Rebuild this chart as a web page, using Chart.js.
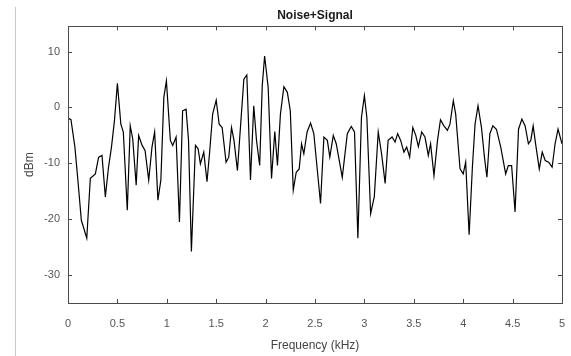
<!DOCTYPE html>
<html>
<head>
<meta charset="utf-8">
<script src="https://cdn.jsdelivr.net/npm/chart.js@4"></script>
<style>
html, body { margin: 0; padding: 0; background: #fff; }
#wrap { position: relative; width: 571px; height: 356px; }
#edge { position: absolute; left: 15px; top: 7px; width: 1px; height: 349px; background: #c8c8c8; }
</style>
</head>
<body>
<div id="wrap">
  <canvas id="noiseChart" width="571" height="356"></canvas>
  <div id="edge"></div>
</div>
<script>
// values
const freqKHz = [
  0, 0.03, 0.07, 0.10, 0.135, 0.19, 0.226, 0.277, 0.31, 0.344,
  0.378, 0.41, 0.44, 0.47, 0.50, 0.535, 0.56, 0.60, 0.63, 0.655,
  0.69, 0.715, 0.75, 0.78, 0.817, 0.85, 0.877, 0.91, 0.94, 0.97,
  0.996, 1.036, 1.06, 1.094, 1.128, 1.16, 1.195, 1.22, 1.249, 1.29,
  1.317, 1.34, 1.374, 1.407, 1.435, 1.464, 1.5, 1.53, 1.56, 1.6,
  1.627, 1.655, 1.68, 1.715, 1.75, 1.78, 1.81, 1.847, 1.88, 1.908,
  1.94, 1.966, 1.99, 2.026, 2.06, 2.093, 2.12, 2.15, 2.185, 2.22,
  2.25, 2.28, 2.31, 2.34, 2.364, 2.387, 2.42, 2.455, 2.488, 2.556,
  2.59, 2.625, 2.65, 2.685, 2.715, 2.776, 2.827, 2.867, 2.9, 2.934,
  2.97, 3.0, 3.025, 3.063, 3.1, 3.14, 3.174, 3.21, 3.24, 3.28,
  3.31, 3.337, 3.367, 3.4, 3.428, 3.458, 3.49, 3.52, 3.546, 3.58,
  3.613, 3.647, 3.67, 3.704, 3.74, 3.77, 3.805, 3.84, 3.866, 3.9,
  3.924, 3.968, 4.0, 4.025, 4.06, 4.093, 4.12, 4.15, 4.185, 4.215,
  4.24, 4.27, 4.3, 4.336, 4.38, 4.43, 4.457, 4.49, 4.525, 4.56,
  4.594, 4.627, 4.66, 4.684, 4.708, 4.735, 4.77, 4.8, 4.83, 4.865,
  4.9, 4.93, 4.96, 5.0
];
const dBm = [
  -1.9, -2.2, -7.1, -13.0, -20.2, -23.4, -12.7, -11.9, -8.9, -8.6,
  -16.0, -10.7, -7.1, -2.4, 4.3, -3.0, -4.4, -18.4, -3.3, -5.6,
  -13.9, -5.0, -6.8, -7.7, -13.0, -7.1, -4.4, -16.6, -13.0, 1.8,
  4.75, -5.9, -6.8, -5.3, -20.5, -0.6, -0.3, -5.9, -25.8, -6.8,
  -7.4, -10.1, -8.0, -13.3, -7.7, -1.2, 1.3, -3.0, -3.6, -9.8,
  -8.9, -3.6, -5.9, -11.3, -2.4, 5.05, 5.8, -13.0, 0.3, -5.9,
  -10.4, 3.9, 9.2, 3.6, -12.7, -4.3, -10.4, -1.2, 3.7, 2.7,
  -0.6, -14.8, -11.6, -11.0, -6.5, -8.3, -4.4, -2.8, -4.7, -17.2,
  -5.3, -5.9, -8.9, -5.0, -6.5, -12.5, -4.7, -3.4, -4.4, -23.4,
  -1.8, 2.1, -1.8, -19.0, -16.0, -4.4, -8.3, -13.6, -5.9, -5.3,
  -6.2, -4.7, -5.9, -8.0, -7.1, -8.9, -3.6, -5.0, -7.0, -4.4,
  -5.3, -8.6, -6.5, -12.2, -5.9, -2.2, -3.3, -4.1, -3.0, 1.2,
  -1.2, -11.0, -11.9, -9.8, -22.8, -10.7, -3.0, 0.3, -3.6, -8.9,
  -12.5, -4.7, -3.3, -3.9, -7.1, -11.9, -10.4, -10.4, -18.7, -3.9,
  -2.1, -3.3, -6.5, -5.9, -3.3, -6.8, -11.0, -8.0, -9.5, -9.8,
  -10.7, -6.5, -3.9, -6.5
];
const xTicks = [0, 0.5, 1, 1.5, 2, 2.5, 3, 3.5, 4, 4.5, 5];
const yTicks = [-30, -20, -10, 0, 10];

const points = freqKHz.map((f, i) => ({ x: f, y: dBm[i] }));

// matlab style frame with inward tick marks on all four sides
const boxTicks = {
  id: 'boxTicks',
  afterDatasetsDraw(chart) {
    const { ctx, chartArea: a, scales: { x, y } } = chart;
    const len = 4;
    ctx.save();
    ctx.strokeStyle = '#4a4a4a';
    ctx.lineWidth = 1;
    ctx.beginPath();
    x.ticks.forEach(t => {
      const px = Math.round(x.getPixelForValue(t.value)) + 0.5;
      ctx.moveTo(px, a.bottom); ctx.lineTo(px, a.bottom - len);
      ctx.moveTo(px, a.top); ctx.lineTo(px, a.top + len);
    });
    y.ticks.forEach(t => {
      const py = Math.round(y.getPixelForValue(t.value)) + 0.5;
      ctx.moveTo(a.left, py); ctx.lineTo(a.left + len, py);
      ctx.moveTo(a.right, py); ctx.lineTo(a.right - len, py);
    });
    ctx.stroke();
    ctx.strokeRect(Math.round(a.left) + 0.5, Math.round(a.top) + 0.5,
      Math.round(a.right) - Math.round(a.left), Math.round(a.bottom) - Math.round(a.top));
    ctx.restore();
  }
};

const tickFont = { family: 'Liberation Sans', size: 11 };

new Chart(document.getElementById('noiseChart').getContext('2d'), {
  type: 'line',
  data: {
    datasets: [{
      data: points,
      borderColor: '#000',
      borderWidth: 1.2,
      pointRadius: 0,
      tension: 0,
      fill: false
    }]
  },
  options: {
    responsive: false,
    animation: false,
    devicePixelRatio: 1,
    layout: { padding: { left: 0, right: 9, top: 0, bottom: 0 } },
    plugins: {
      legend: { display: false },
      tooltip: { enabled: false },
      title: {
        display: true,
        text: 'Noise+Signal',
        fullSize: false,
        color: '#1a1a1a',
        font: { family: 'Liberation Sans', size: 12, weight: 'bold' },
        padding: { top: 8, bottom: 4 }
      }
    },
    scales: {
      x: {
        type: 'linear',
        min: 0,
        max: 5,
        afterBuildTicks: s => { s.ticks = xTicks.map(v => ({ value: v })); },
        afterFit: s => { s.height = 53; },
        // hidden tick length only pushes the labels down
        grid: { display: false, drawTicks: true, tickLength: 14 },
        border: { display: false },
        ticks: { color: '#555', font: tickFont, padding: 0, maxRotation: 0, callback: v => String(v) },
        title: {
          display: true,
          text: 'Frequency (kHz)',
          color: '#444',
          font: { family: 'Liberation Sans', size: 12 },
          padding: { top: 0, bottom: 3 }
        }
      },
      y: {
        min: -35,
        max: 14.5,
        afterBuildTicks: s => { s.ticks = yTicks.map(v => ({ value: v })); },
        afterFit: s => { s.width = 68; },
        grid: { display: false, drawTicks: false },
        border: { display: false },
        ticks: { color: '#555', font: tickFont, padding: 8, callback: v => String(v) },
        title: {
          display: true,
          text: 'dBm',
          color: '#444',
          font: { family: 'Liberation Sans', size: 12 },
          padding: { top: 22, bottom: 0 }
        }
      }
    }
  },
  plugins: [boxTicks]
});
</script>
</body>
</html>
